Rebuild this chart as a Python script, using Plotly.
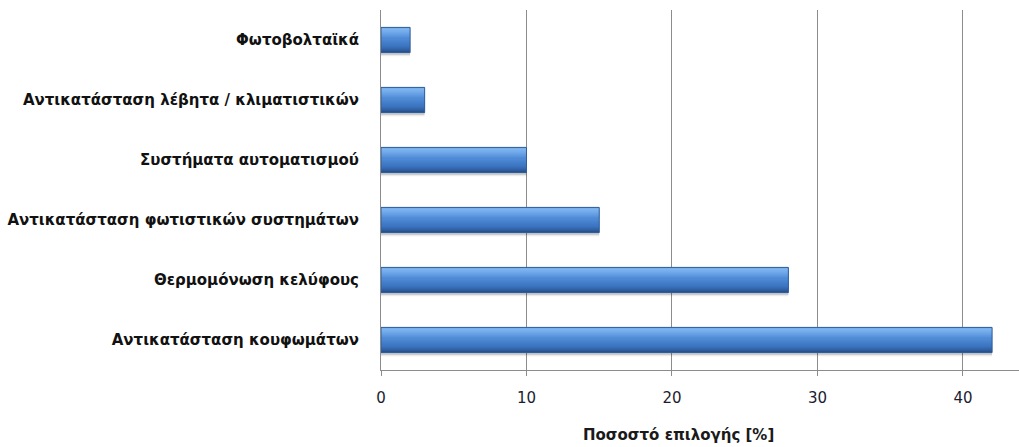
import plotly.graph_objects as go

# Categories listed bottom-to-top (categorical y axis starts at the bottom)
measures = [
    "Αντικατάσταση κουφωμάτων",
    "Θερμομόνωση κελύφους",
    "Αντικατάσταση φωτιστικών συστημάτων",
    "Συστήματα αυτοματισμού",
    "Αντικατάσταση λέβητα / κλιματιστικών",
    "Φωτοβολταϊκά",
]
share_pct = [42, 28, 15, 10, 3, 2]
x_ticks = [0, 10, 20, 30, 40]

BAR_W = 0.42  # bar thickness in category units

# Colour stops (fraction from the top edge, rgb) for the shaded bar face
stops = [
    (0.00, (92, 150, 222)),
    (0.08, (128, 182, 240)),
    (0.22, (112, 168, 234)),
    (0.50, (74, 134, 210)),
    (0.78, (58, 114, 190)),
    (0.92, (46, 94, 160)),
    (1.00, (36, 78, 136)),
]
N_STRIPS = 24


def shade(t):
    for (t0, c0), (t1, c1) in zip(stops, stops[1:]):
        if t <= t1:
            f = (t - t0) / (t1 - t0)
            return "rgb({},{},{})".format(*[round(a + (b - a) * f) for a, b in zip(c0, c1)])
    return "rgb({},{},{})".format(*stops[-1][1])


fig = go.Figure()

# soft drop shadow below each bar
for dy, alpha in [(0.06, 0.08), (0.04, 0.12)]:
    fig.add_trace(go.Bar(
        y=measures, x=share_pct, orientation="h",
        width=BAR_W, offset=-BAR_W / 2 - dy,
        marker=dict(color=f"rgba(0,0,0,{alpha})", line=dict(width=0)),
        hoverinfo="skip",
    ))

for i in range(N_STRIPS):
    top, bot = i / N_STRIPS, (i + 1) / N_STRIPS
    fig.add_trace(go.Bar(
        y=measures, x=share_pct, orientation="h",
        width=(bot - top) * BAR_W * 1.02,
        offset=BAR_W / 2 - bot * BAR_W,
        marker=dict(color=shade((top + bot) / 2), line=dict(width=0)),
        hoverinfo="skip",
    ))

# crisp outline around the whole bar
fig.add_trace(go.Bar(
    y=measures, x=share_pct, orientation="h",
    width=BAR_W, offset=-BAR_W / 2,
    marker=dict(color="rgba(0,0,0,0)", line=dict(color="#2F5E9C", width=1)),
    hoverinfo="skip",
))

fig.add_annotation(
    text="<b>Ποσοστό επιλογής [%]</b>",
    xref="paper", yref="paper", x=0.467, y=-0.211,
    xanchor="center", yanchor="bottom", showarrow=False,
    font=dict(family="DejaVu Sans", size=15, color="#1a1a1a"),
)

fig.update_layout(
    width=1019, height=447,
    margin=dict(l=381, r=0, t=10, b=77),
    paper_bgcolor="white", plot_bgcolor="white",
    barmode="overlay", showlegend=False, hovermode=False,
    xaxis=dict(
        range=[0, 43.85], tickvals=x_ticks, ticktext=[str(v) for v in x_ticks],
        showgrid=True, gridcolor="#8c8c8c", gridwidth=1,
        showline=True, linecolor="#8c8c8c", linewidth=1,
        ticks="outside", ticklen=5, tickcolor="#8c8c8c",
        zeroline=False, ticklabelstandoff=9,
        tickfont=dict(family="DejaVu Sans", size=15, color="#1c1c30"),
    ),
    yaxis=dict(
        categoryorder="array", categoryarray=measures,
        showline=True, linecolor="#8c8c8c", linewidth=1,
        showgrid=False, ticks="", ticklabelstandoff=18,
        tickfont=dict(family="DejaVu Sans", size=15, color="#111111"),
        tickprefix="<b>", ticksuffix="</b>",
    ),
)

fig.write_html("out.html")
